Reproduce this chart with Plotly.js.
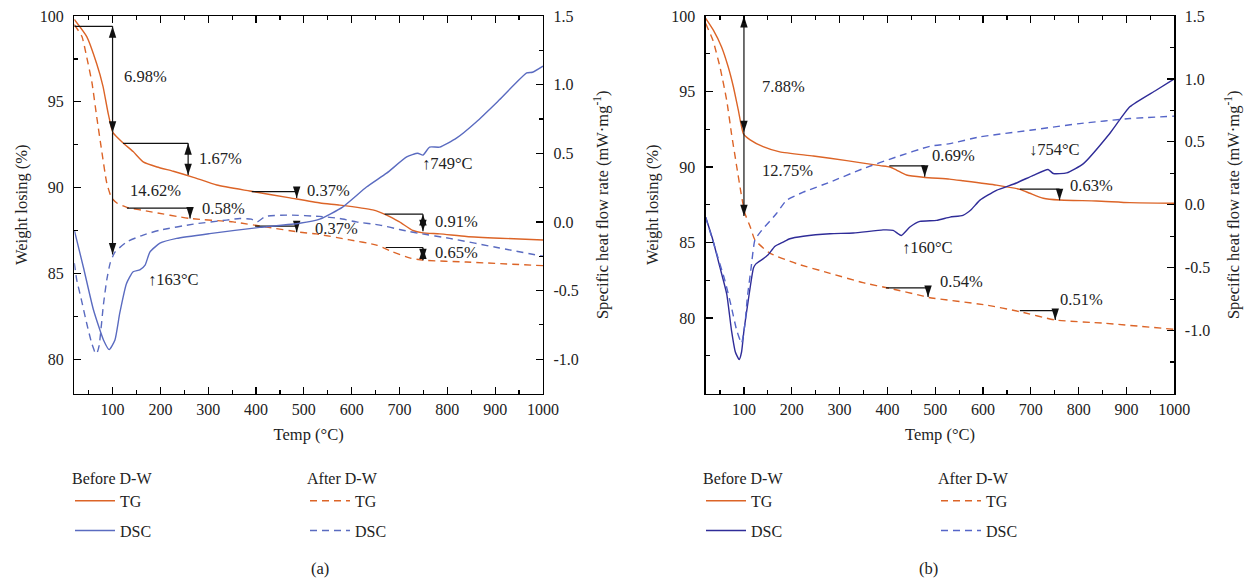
<!DOCTYPE html>
<html><head><meta charset="utf-8">
<script src="https://cdn.plot.ly/plotly-3.0.1.min.js"></script>
<style>html,body{margin:0;padding:0;background:#fff}#c{width:1250px;height:582px}</style>
</head><body><div id="c"></div>
<script>
// ---------- Panel (a) data ----------
const aTG_T  = [20, 46, 67, 80, 91, 101, 122, 143, 164, 193, 227, 269, 318, 387, 471, 534, 575, 644, 673, 700, 728, 749, 784, 840, 909, 1000];
const aTG_W  = [99.8, 98.8, 97.2, 95.9, 94.3, 93.2, 92.6, 92.1, 91.5, 91.2, 90.95, 90.6, 90.15, 89.8, 89.4, 89.1, 88.98, 88.7, 88.4, 88.0, 87.5, 87.36, 87.3, 87.15, 87.05, 86.95];
const aTGd_T = [20, 36, 46, 57, 67, 77, 88, 98, 109, 130, 178, 262, 352, 422, 492, 526, 596, 652, 686, 721, 749, 840, 1000];
const aTGd_W = [99.5, 98.8, 97.6, 96.1, 94.1, 92.2, 90.25, 89.4, 89.1, 88.85, 88.6, 88.2, 88.0, 87.7, 87.4, 87.3, 86.95, 86.65, 86.25, 85.9, 85.77, 85.66, 85.45];
const aDSC_T = [20, 39, 60, 81, 93, 105, 115, 129, 143, 157, 168, 178, 199, 234, 303, 408, 491, 533, 581, 631, 673, 715, 738, 749, 763, 784, 819, 861, 909, 966, 978, 1000];
const aDSC_H = [-0.06, -0.33, -0.64, -0.86, -0.93, -0.86, -0.665, -0.45, -0.363, -0.35, -0.315, -0.22, -0.155, -0.12, -0.085, -0.04, -0.01, 0.02, 0.108, 0.254, 0.355, 0.473, 0.50, 0.487, 0.545, 0.545, 0.61, 0.73, 0.89, 1.085, 1.09, 1.135];
const aDSCd_T = [20, 25, 35, 46, 56, 61, 64, 68, 72, 81, 88, 95, 105, 130, 164, 199, 269, 338, 366, 390, 402, 420, 470, 533, 575, 610, 659, 700, 720, 742, 805, 909, 1000];
const aDSCd_H = [-0.30, -0.42, -0.57, -0.74, -0.88, -0.93, -0.96, -0.95, -0.9, -0.6, -0.42, -0.3, -0.22, -0.145, -0.096, -0.06, -0.016, 0.013, 0.025, 0.02, 0.0, 0.04, 0.05, 0.04, 0.025, 0.0, -0.023, -0.055, -0.07, -0.084, -0.12, -0.19, -0.25];

const aRefX0 = [20, 122, 391, 130, 398, 669, 671];
const aRefX1 = [100, 258, 485, 262, 485, 749, 749];
const aRefW  = [99.4, 92.58, 89.76, 88.8, 87.75, 88.45, 86.51];
const aArrowX    = [100, 100, 258, 485, 262, 485, 749, 749];
const aArrowFrom = [99.4, 93.2, 92.58, 89.76, 88.8, 87.75, 88.45, 86.51];
const aArrowTo   = [93.2, 86.1, 90.73, 89.4, 88.2, 87.4, 87.46, 85.77];
const aArrowBoth = [true, false, true, false, false, false, true, true];
const aLabelText = ['6.98%', '14.62%', '1.67%', '0.37%', '0.58%', '0.37%', '0.91%', '0.65%', '↑163°C', '↑749°C'];
const aLabelX    = [120, 132, 276, 502, 282, 519, 769, 769, 170, 742];
const aLabelW    = [96.45, 89.85, 91.72, 89.85, 88.8, 87.64, 88.05, 86.24, 84.66, 91.43];

// ---------- Panel (b) data ----------
const bTG_T  = [20, 36, 53, 67, 78, 88, 99, 113, 140, 175, 245, 315, 385, 405, 419, 440, 475, 530, 558, 628, 677, 698, 726, 760, 837, 907, 1000];
const bTG_W  = [99.85, 99.07, 97.97, 96.64, 95.3, 93.8, 92.2, 91.8, 91.35, 91.0, 90.73, 90.42, 90.09, 90.0, 89.8, 89.47, 89.32, 89.2, 89.09, 88.8, 88.52, 88.26, 87.93, 87.81, 87.75, 87.64, 87.6];
const bTGd_T = [20, 35, 50, 64, 74, 85, 94, 102, 113, 123, 154, 210, 280, 349, 405, 475, 484, 606, 677, 751, 855, 1000];
const bTGd_W = [99.5, 98.4, 96.6, 94.4, 92.2, 90.0, 88.26, 86.93, 86.05, 85.17, 84.3, 83.6, 82.96, 82.34, 81.96, 81.45, 81.37, 80.86, 80.42, 79.87, 79.65, 79.25];
const bDSC_T = [20, 35, 50, 64, 74, 82, 90, 95, 100, 109, 120, 125, 140, 150, 165, 182, 196, 224, 280, 329, 391, 412, 429, 447, 468, 503, 531, 558, 575, 593, 628, 670, 705, 736, 747, 775, 810, 865, 907, 962, 1000];
const bDSC_H = [-0.1, -0.28, -0.5, -0.71, -1.0, -1.17, -1.23, -1.17, -1.0, -0.76, -0.5, -0.47, -0.43, -0.40, -0.33, -0.297, -0.27, -0.25, -0.23, -0.225, -0.2, -0.204, -0.244, -0.177, -0.132, -0.124, -0.098, -0.084, -0.04, 0.035, 0.115, 0.173, 0.234, 0.28, 0.248, 0.253, 0.327, 0.566, 0.778, 0.91, 1.0];
const bDSCd_T = [20, 40, 60, 73, 85, 95, 102, 107, 115, 123, 137, 168, 189, 224, 280, 349, 419, 489, 531, 593, 698, 802, 907, 1000];
const bDSCd_H = [-0.1, -0.35, -0.6, -0.8, -1.0, -1.1, -0.95, -0.74, -0.5, -0.28, -0.204, -0.07, 0.035, 0.1, 0.18, 0.287, 0.38, 0.465, 0.486, 0.539, 0.592, 0.645, 0.685, 0.704];

const bRefX0 = [404, 677, 397, 677];
const bRefX1 = [478, 760, 485, 751];
const bRefW  = [90.07, 88.54, 81.99, 80.49];
const bArrowX    = [100, 100, 478, 760, 485, 751];
const bArrowFrom = [100, 92.3, 90.07, 88.54, 81.99, 80.49];
const bArrowTo   = [92.3, 86.75, 89.36, 87.8, 81.39, 79.87];
const bArrowBoth = [true, false, false, false, false, false];
const bLabelText = ['7.88%', '12.75%', '0.69%', '0.63%', '0.54%', '0.51%', '↑160°C', '↓754°C'];
const bLabelX    = [133, 133, 489, 777, 505, 756, 426, 691];
const bLabelW    = [95.3, 89.8, 90.73, 88.8, 82.45, 81.2, 84.64, 91.13];

// ---------- axis tick definitions ----------
const xTickVals = [100, 200, 300, 400, 500, 600, 700, 800, 900, 1000];
const wTickVals = [80, 85, 90, 95, 100];
const wMinorVals = [77.5, 82.5, 87.5, 92.5, 97.5];
const hTickVals = [-1.0, -0.5, 0.0, 0.5, 1.0, 1.5];
const hTickText = ['-1.0', '-0.5', '0.0', '0.5', '1.0', '1.5'];
const hMinorVals = [-1.25, -0.75, -0.25, 0.25, 0.75, 1.25];
const legendHeaders = ['Before D-W', 'After D-W', 'Before D-W', 'After D-W'];
const panelTags = ['(a)', '(b)'];

// ---------- styling ----------
const FONT = 'Liberation Serif, DejaVu Serif, serif';
const TXT = '#222';
const ORANGE = '#DC6427';
const BLUE_A = '#5A6BC0';
const BLUE_B = '#2F2C98';
const BLUE_BD = '#5565C8';
const DASH = '7px,5px';

function tr(x, y, xa, ya, color, dash, name, legend, group) {
  return {x, y, xaxis: xa, yaxis: ya, type: 'scatter', mode: 'lines', name,
    line: {color, width: 1.4, dash: dash || 'solid', shape: 'spline', smoothing: 0.5},
    legend, legendgroup: group, hoverinfo: 'skip'};
}

const data = [
  tr(aTG_T, aTG_W, 'x', 'y', ORANGE, null, 'TG', 'legend', 'a1'),
  tr(aDSC_T, aDSC_H, 'x', 'y2', BLUE_A, null, 'DSC', 'legend', 'a2'),
  tr(aTGd_T, aTGd_W, 'x', 'y', ORANGE, DASH, 'TG', 'legend2', 'a3'),
  tr(aDSCd_T, aDSCd_H, 'x', 'y2', BLUE_A, DASH, 'DSC', 'legend2', 'a4'),
  tr(bTG_T, bTG_W, 'x2', 'y3', ORANGE, null, 'TG', 'legend3', 'b1'),
  tr(bDSC_T, bDSC_H, 'x2', 'y4', BLUE_B, null, 'DSC', 'legend3', 'b2'),
  tr(bTGd_T, bTGd_W, 'x2', 'y3', ORANGE, DASH, 'TG', 'legend4', 'b3'),
  tr(bDSCd_T, bDSCd_H, 'x2', 'y4', BLUE_BD, DASH, 'DSC', 'legend4', 'b4'),
];

const annotations = [];
// step markers: reference lines + vertical arrows drawn as traces, heads as 'arrow' markers
function addSteps(xa, ya, rx0, rx1, rw, ax, af, at, ab, lt, lx, lw) {
  const lx_ = [], ly_ = [], hx = [], hy = [], ha = [];
  for (let i = 0; i < rw.length; i++) {
    lx_.push(rx0[i], rx1[i], null); ly_.push(rw[i], rw[i], null);
  }
  for (let i = 0; i < ax.length; i++) {
    lx_.push(ax[i], ax[i], null); ly_.push(af[i], at[i], null);
    const down = at[i] < af[i];
    hx.push(ax[i]); hy.push(at[i]); ha.push(down ? 180 : 0);
    if (ab[i]) { hx.push(ax[i]); hy.push(af[i]); ha.push(down ? 0 : 180); }
  }
  data.push({x: lx_, y: ly_, xaxis: xa, yaxis: ya, type: 'scatter', mode: 'lines',
    line: {color: '#111', width: 1.2}, showlegend: false, hoverinfo: 'skip', cliponaxis: false});
  data.push({x: hx, y: hy, xaxis: xa, yaxis: ya, type: 'scatter', mode: 'markers',
    marker: {symbol: 'arrow', size: 12, angle: ha, color: '#111', line: {width: 0}},
    showlegend: false, hoverinfo: 'skip', cliponaxis: false});
  for (let i = 0; i < lt.length; i++) {
    annotations.push({xref: xa, yref: ya, x: lx[i], y: lw[i], text: lt[i], showarrow: false,
      xanchor: 'left', yanchor: 'middle', font: {family: FONT, size: 16.5, color: TXT}});
  }
}
addSteps('x', 'y', aRefX0, aRefX1, aRefW, aArrowX, aArrowFrom, aArrowTo, aArrowBoth, aLabelText, aLabelX, aLabelW);
addSteps('x2', 'y3', bRefX0, bRefX1, bRefW, bArrowX, bArrowFrom, bArrowTo, bArrowBoth, bLabelText, bLabelX, bLabelW);

const tickFont = {family: FONT, size: 16, color: TXT};
const titleFont = {family: FONT, size: 16.5, color: TXT};

function xAxis(domain, anchor) {
  return {domain, anchor, range: [20, 1000], tickmode: 'array', tickvals: xTickVals,
    ticks: 'inside', ticklen: 7, tickwidth: 1.2, tickcolor: '#000',
    showline: true, linecolor: '#000', linewidth: 1.3, mirror: 'ticks',
    showgrid: false, zeroline: false, tickfont: tickFont, ticklabelstandoff: 1,
    minor: {dtick: 50, tick0: 0, ticks: 'inside', ticklen: 4, tickwidth: 1.2, tickcolor: '#000', showgrid: false},
    title: {text: 'Temp (°C)', font: titleFont, standoff: 11}};
}
function wAxis(range, anchor, domain) {
  return {domain, anchor, range, tickmode: 'array', tickvals: wTickVals,
    ticks: 'inside', ticklen: 7, tickwidth: 1.2, tickcolor: '#000',
    showline: true, linecolor: '#000', linewidth: 1.3,
    showgrid: false, zeroline: false, tickfont: tickFont, ticklabelstandoff: 6,
    minor: {tickvals: wMinorVals, ticks: 'inside', ticklen: 4, tickwidth: 1.2, tickcolor: '#000', showgrid: false},
    title: {text: 'Weight losing (%)', font: titleFont, standoff: 8}};
}
function hAxis(range, anchor, overlay) {
  return {overlaying: overlay, side: 'right', anchor, range, tickmode: 'array',
    tickvals: hTickVals, ticktext: hTickText,
    ticks: 'inside', ticklen: 7, tickwidth: 1.2, tickcolor: '#000',
    showline: true, linecolor: '#000', linewidth: 1.3,
    showgrid: false, zeroline: false, tickfont: tickFont, ticklabelstandoff: 6,
    minor: {tickvals: hMinorVals, ticks: 'inside', ticklen: 4, tickwidth: 1.2, tickcolor: '#000', showgrid: false},
    title: {text: 'Specific heat flow rate (mW·mg<sup>-1</sup>)', font: titleFont, standoff: 18}};
}

const yDom = [1 - 393.5 / 582, 1 - 16 / 582];
const domA = [74.3 / 1250, 543 / 1250];
const domB = [705.7 / 1250, 1174.3 / 1250];

annotations.push({xref: 'paper', yref: 'paper', x: (domA[0] + domA[1]) / 2, y: 1 - 568 / 582, text: panelTags[0],
  showarrow: false, yanchor: 'middle', font: {family: FONT, size: 16.5, color: TXT}});
annotations.push({xref: 'paper', yref: 'paper', x: (domB[0] + domB[1]) / 2, y: 1 - 568 / 582, text: panelTags[1],
  showarrow: false, yanchor: 'middle', font: {family: FONT, size: 16.5, color: TXT}});

function legendAt(px, title) {
  return {x: px / 1250, y: 1 - 463 / 582, xanchor: 'left', yanchor: 'top',
    title: {text: title, font: {family: FONT, size: 16, color: TXT}},
    font: {family: FONT, size: 16, color: TXT}, bgcolor: 'rgba(0,0,0,0)', borderwidth: 0,
    traceorder: 'grouped', tracegroupgap: 6, itemwidth: 40, itemclick: false, itemdoubleclick: false};
}

const layout = {
  width: 1250, height: 582, margin: {l: 0, r: 0, t: 0, b: 0},
  paper_bgcolor: '#fff', plot_bgcolor: '#fff', showlegend: true, hovermode: false,
  font: {family: FONT, color: TXT},
  xaxis: xAxis(domA, 'y'),
  yaxis: wAxis([78, 100], 'x', yDom),
  yaxis2: hAxis([-1.25, 1.5], 'x', 'y'),
  xaxis2: xAxis(domB, 'y3'),
  yaxis3: wAxis([75, 100], 'x2', yDom),
  yaxis4: hAxis([-1.5, 1.5], 'x2', 'y3'),
  legend: legendAt(70, legendHeaders[0]),
  legend2: legendAt(305, legendHeaders[1]),
  legend3: legendAt(701, legendHeaders[2]),
  legend4: legendAt(936, legendHeaders[3]),
  annotations
};

Plotly.newPlot('c', data, layout, {staticPlot: true, displayModeBar: false});
</script>
</body></html>
